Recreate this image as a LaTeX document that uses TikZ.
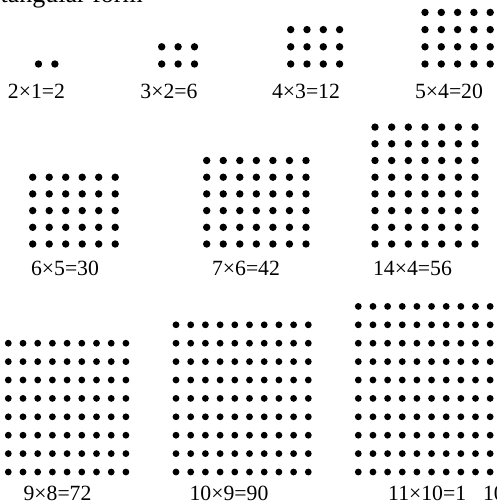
\documentclass[tikz,border=0pt]{standalone}
\usepackage{fontspec}
\setmainfont{Liberation Serif}
\usepackage{tikz}

% cols, rows, left x, bottom y, dx, dy, radius
\newcommand{\dotgrid}[7]{%
  \foreach \i in {1,...,#1}
    \foreach \j in {1,...,#2}
      \fill ({#3+(\i-1)*#5}, {#4-(\j-1)*#6}) circle (#7);
}

\begin{document}
\begin{tikzpicture}[
    x=1pt, y=-1pt,
    label/.style={anchor=base, inner sep=0pt, font=\fontsize{21.7}{26}\selectfont},
    heading/.style={anchor=base east, inner sep=0pt, font=\fontsize{26}{30}\selectfont}
]
\clip (0,0) rectangle (497,504);

\node[heading] (title) at (143, 2) {Rectangular form};

% first row
\dotgrid{2}{1}{38.5}{64}{16.4}{17.2}{3.7pt}
\dotgrid{3}{2}{161.7}{64}{16.4}{17.2}{3.7pt}
\dotgrid{4}{3}{290.7}{64}{16.3}{17.2}{3.7pt}
\dotgrid{5}{4}{425}{64}{16.3}{17.2}{3.7pt}
\node[label] (l21) at (36.5, 98) {2×1=2};
\node[label] (l32) at (169, 98) {3×2=6};
\node[label] (l43) at (306, 98) {4×3=12};
\node[label] (l54) at (449, 98) {5×4=20};

% second row
\dotgrid{6}{5}{32.7}{244}{16.5}{16.7}{3.7pt}
\dotgrid{7}{6}{206.7}{244}{16.55}{16.7}{3.7pt}
\dotgrid{7}{8}{375}{244}{16.67}{16.7}{3.7pt}
\node[label] (l65) at (65, 275) {6×5=30};
\node[label] (l76) at (246, 275) {7×6=42};
\node[label] (l144) at (412.5, 275) {14×4=56};

% third row
\dotgrid{9}{8}{8.3}{472}{14.7}{18.4}{3.4pt}
\dotgrid{10}{9}{176}{472}{14.7}{18.4}{3.4pt}
\dotgrid{11}{10}{358.3}{472}{14.65}{18.4}{3.4pt}
\node[label] (l98) at (57.5, 500) {9×8=72};
\node[label] (l109) at (229, 500) {10×9=90};
\node[label, anchor=base west] (l1110) at (388, 500) {11×10=1\hspace{17pt}10};
\end{tikzpicture}
\end{document}
